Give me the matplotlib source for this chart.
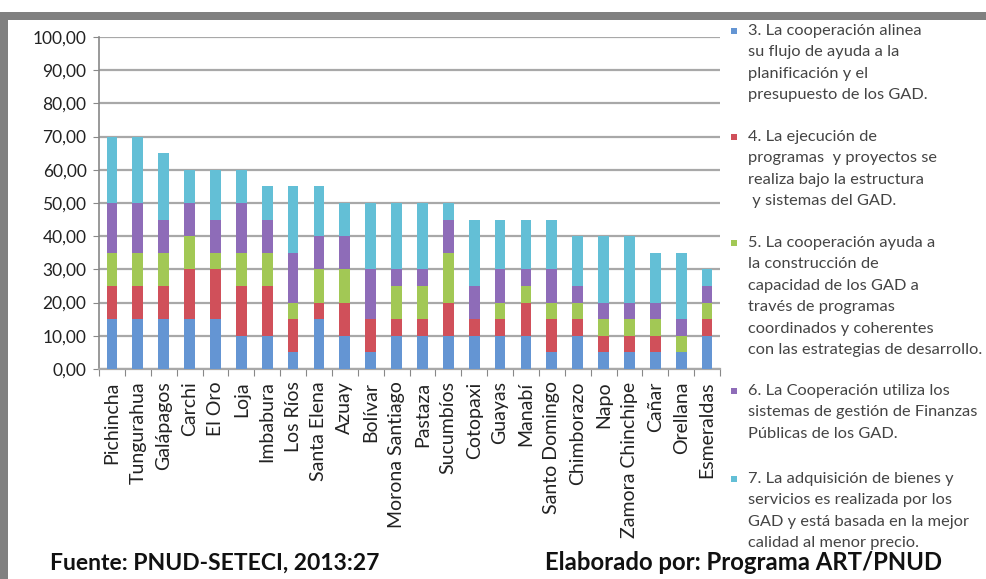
import matplotlib
matplotlib.use("Agg")
import matplotlib.pyplot as plt
import numpy as np
from matplotlib.patches import Rectangle

provincias = ["Pichincha", "Tungurahua", "Galápagos", "Carchi", "El Oro", "Loja",
              "Imbabura", "Los Ríos", "Santa Elena", "Azuay", "Bolívar",
              "Morona Santiago", "Pastaza", "Sucumbíos", "Cotopaxi", "Guayas",
              "Manabí", "Santo Domingo", "Chimborazo", "Napo", "Zamora Chinchipe",
              "Cañar", "Orellana", "Esmeraldas"]

p3 = [15, 15, 15, 15, 15, 10, 10, 5, 15, 10, 5, 10, 10, 10, 10, 10, 10, 5, 10, 5, 5, 5, 5, 10]
p4 = [10, 10, 10, 15, 15, 15, 15, 10, 5, 10, 10, 5, 5, 10, 5, 5, 10, 10, 5, 5, 5, 5, 0, 5]
p5 = [10, 10, 10, 10, 5, 10, 10, 5, 10, 10, 0, 10, 10, 15, 0, 5, 5, 5, 5, 5, 5, 5, 5, 5]
p6 = [15, 15, 10, 10, 10, 15, 10, 15, 10, 10, 15, 5, 5, 10, 10, 10, 5, 10, 5, 5, 5, 5, 5, 5]
p7 = [20, 20, 20, 10, 15, 10, 10, 20, 15, 10, 20, 20, 20, 5, 20, 15, 15, 15, 15, 20, 20, 15, 20, 5]

series_labels = [
    "3. La cooperación alinea\nsu flujo de ayuda a la\nplanificación y el\npresupuesto de los GAD.",
    "4. La ejecución de\nprogramas  y proyectos se\nrealiza bajo la estructura\n y sistemas del GAD.",
    "5. La cooperación ayuda a\nla construcción de\ncapacidad de los GAD a\ntravés de programas\ncoordinados y coherentes\ncon las estrategias de desarrollo.",
    "6. La Cooperación utiliza los\nsistemas de gestión de Finanzas\nPúblicas de los GAD.",
    "7. La adquisición de bienes y\nservicios es realizada por los\nGAD y está basada en la mejor\ncalidad al menor precio.",
]
colors = ["#6495d3", "#d0505a", "#a2c855", "#8e6cb8", "#63bfd6"]
yticks = [0, 10, 20, 30, 40, 50, 60, 70, 80, 90, 100]
ytick_labels = ["0,00", "10,00", "20,00", "30,00", "40,00", "50,00", "60,00",
                "70,00", "80,00", "90,00", "100,00"]

plt.rcParams['font.family'] = ['Lato', 'DejaVu Sans']

W, H = 986, 579
fig = plt.figure(figsize=(W / 100, H / 100), dpi=100)
fig.patch.set_facecolor("white")

# gray frame (top and left)
fig.add_artist(Rectangle((5 / W, 1 - 20 / H), 1, 8 / H, transform=fig.transFigure,
                         color="#808080", lw=0))
fig.add_artist(Rectangle((0, 0), 8 / W, 1 - 12 / H, transform=fig.transFigure,
                         color="#808080", lw=0))

ax = fig.add_axes([99 / W, (H - 369) / H, 621 / W, 332 / H])
n = len(provincias)
x = np.arange(n) + 0.5
bottom = np.zeros(n)
for vals, c in zip([p3, p4, p5, p6, p7], colors):
    v = np.array(vals, dtype=float)
    ax.bar(x, v, width=0.42, bottom=bottom, color=c, zorder=3, lw=0)
    bottom += v

ax.set_xlim(0, n)
ax.set_ylim(0, 100)
ax.set_yticks(yticks)
ax.set_yticklabels(ytick_labels, fontsize=12.5, color="#222222")
ax.yaxis.grid(True, color="#a8a8a8", lw=1.6, zorder=0)
ax.set_xticks(np.arange(n + 1))
ax.set_xticklabels([])
ax.set_xticks(x, minor=True)
ax.set_xticklabels(provincias, minor=True, rotation=90, fontsize=14, color="#222222")
ax.tick_params(axis="x", which="minor", length=0, pad=9)
ax.tick_params(axis="x", which="major", length=5, color="#888888", direction="out")
ax.tick_params(axis="y", length=4, color="#888888", pad=5)
for s in ["top", "right"]:
    ax.spines[s].set_visible(False)
ax.spines["left"].set_color("#888888")
ax.spines["bottom"].set_color("#a8a8a8")
ax.spines["left"].set_linewidth(1.2)
ax.spines["bottom"].set_linewidth(1.6)

# legend (manual text to match layout)
leg_tops = [24, 130, 236, 384, 472]
for lab, c, top in zip(series_labels, colors, leg_tops):
    fig.add_artist(Rectangle((731 / W, 1 - (top + 10) / H), 6 / W, 6 / H,
                             transform=fig.transFigure, color=c, lw=0))
    fig.text(748 / W, 1 - top / H, lab, fontsize=11.75, va="top", ha="left",
             color="#444444", linespacing=1.68)

fig.text(50 / W, 1 - 563 / H, "Fuente: PNUD-SETECI, 2013:27", fontsize=16.5,
         fontweight="bold", va="center", ha="left", color="#111111")
fig.text(545 / W, 1 - 563 / H, "Elaborado por: Programa ART/PNUD", fontsize=17.2,
         fontweight="bold", va="center", ha="left", color="#111111")

fig.savefig("out.png", dpi=100)
